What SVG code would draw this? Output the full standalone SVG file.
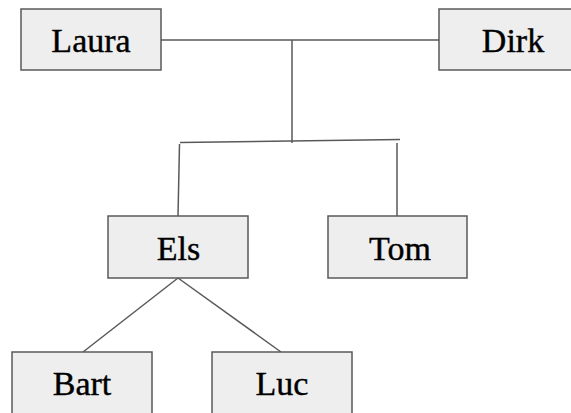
<svg xmlns="http://www.w3.org/2000/svg" width="571" height="413" viewBox="0 0 571 413">
<style>
.box{fill:#eeeeee;stroke:#595959;stroke-width:1.5}
.lbl{font-family:"Liberation Serif",serif;font-size:34px;fill:#000;stroke:#000;stroke-width:0.4;text-anchor:middle}
.ln{stroke:#595959;stroke-width:1.5;fill:none}
</style>
<rect width="571" height="413" fill="#fff"/>
<g id="connectors">
<line class="ln" x1="161" y1="40" x2="439" y2="40"/>
<line class="ln" x1="292" y1="40" x2="292" y2="143"/>
<line class="ln" x1="180" y1="142.5" x2="400" y2="139.5"/>
<line class="ln" x1="179.5" y1="144" x2="178" y2="216"/>
<line class="ln" x1="397" y1="143" x2="397" y2="216"/>
<line class="ln" x1="178" y1="278" x2="83" y2="352"/>
<line class="ln" x1="178" y1="278" x2="281" y2="352"/>
</g>
<g id="laura"><rect class="box" x="21" y="9" width="140" height="61"/><text class="lbl" x="91" y="52">Laura</text></g>
<g id="dirk"><rect class="box" x="439" y="9" width="150" height="61"/><text class="lbl" x="513" y="52">Dirk</text></g>
<g id="els"><rect class="box" x="108" y="216" width="140" height="62"/><text class="lbl" x="178.5" y="260">Els</text></g>
<g id="tom"><rect class="box" x="328" y="216" width="139" height="62"/><text class="lbl" x="400" y="260">Tom</text></g>
<g id="bart"><rect class="box" x="12" y="352" width="140" height="70"/><text class="lbl" x="82" y="395">Bart</text></g>
<g id="luc"><rect class="box" x="212" y="352" width="140" height="70"/><text class="lbl" x="282" y="395">Luc</text></g>
</svg>
